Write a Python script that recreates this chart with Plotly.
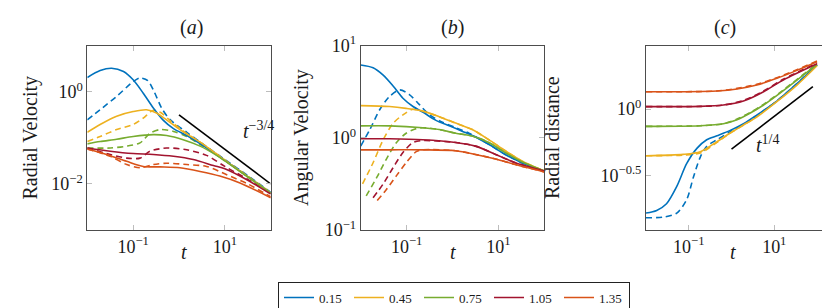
import numpy as np
import plotly.graph_objects as go

# ---------------- data (log10 values) ----------------
labels = ["0.15", "0.45", "0.75", "1.05", "1.35"]
colors = ["#0072BD", "#EDB120", "#77AC30", "#A2142F", "#D95319"]

# Panel (a): Radial velocity  (log10 t, log10 v)
a_blue_s_t = [-2, -1.72, -1.47, -1.21, -1.0, -0.78, -0.56, -0.34, -0.12, 0.17, 0.5, 1.0, 1.5, 2.0]
a_blue_s_v = [0.31, 0.46, 0.51, 0.44, 0.26, -0.03, -0.35, -0.62, -0.80, -0.95, -1.15, -1.49, -1.84, -2.2]
a_blue_d_t = [-2, -1.72, -1.36, -1.0, -0.85, -0.68, -0.55, -0.38, -0.2, 0.17, 0.5, 1.0, 1.5, 2.0]
a_blue_d_v = [-0.61, -0.39, -0.10, 0.22, 0.30, 0.24, 0.02, -0.35, -0.60, -0.88, -1.12, -1.47, -1.82, -2.18]
a_yel_s_t = [-2, -1.72, -1.36, -1.0, -0.71, -0.49, -0.27, 0.02, 0.5, 1.0, 1.5, 2.0]
a_yel_s_v = [-0.88, -0.71, -0.53, -0.43, -0.39, -0.46, -0.61, -0.82, -1.12, -1.49, -1.84, -2.2]
a_yel_d_t = [-2, -1.72, -1.36, -1.0, -0.78, -0.56, -0.4, -0.2, 0.1, 0.5, 1.0, 1.5, 2.0]
a_yel_d_v = [-1.08, -0.97, -0.82, -0.71, -0.57, -0.40, -0.45, -0.62, -0.86, -1.12, -1.48, -1.83, -2.19]
a_grn_s_t = [-2, -1.72, -1.36, -1.0, -0.56, -0.27, 0.09, 0.46, 0.82, 1.0, 1.5, 2.0]
a_grn_s_v = [-1.13, -1.08, -1.03, -0.97, -0.93, -0.95, -1.04, -1.18, -1.38, -1.50, -1.85, -2.2]
a_grn_d_t = [-2, -1.5, -1.14, -0.85, -0.63, -0.41, -0.12, 0.17, 0.5, 1.0, 1.5, 2.0]
a_grn_d_v = [-1.22, -1.22, -1.18, -1.11, -0.90, -0.82, -0.86, -0.97, -1.17, -1.49, -1.84, -2.2]
a_red_s_t = [-2, -1.5, -1.0, -0.56, -0.12, 0.31, 0.75, 1.0, 1.5, 2.0]
a_red_s_v = [-1.22, -1.29, -1.34, -1.36, -1.40, -1.47, -1.60, -1.67, -1.92, -2.22]
a_red_d_t = [-2, -1.5, -1.14, -0.85, -0.63, -0.27, 0.17, 0.6, 1.0, 1.5, 2.0]
a_red_d_v = [-1.22, -1.36, -1.44, -1.44, -1.29, -1.22, -1.26, -1.38, -1.62, -1.90, -2.2]
a_org_s_t = [-2, -1.58, -1.14, -0.78, -0.41, 0.02, 0.46, 0.89, 1.33, 2.0]
a_org_s_v = [-1.24, -1.36, -1.51, -1.62, -1.63, -1.65, -1.73, -1.83, -1.98, -2.30]
a_org_d_t = [-2, -1.5, -1.14, -0.85, -0.56, -0.27, 0.17, 0.6, 1.04, 1.5, 2.0]
a_org_d_v = [-1.24, -1.40, -1.58, -1.65, -1.58, -1.55, -1.58, -1.62, -1.80, -2.0, -2.28]

# Panel (b): Angular velocity
b_blue_s_t = [-2, -1.73, -1.51, -1.29, -1.08, -0.86, -0.65, -0.36, -0.07, 0.22, 0.5, 0.79, 1.15, 1.51, 2.0]
b_blue_s_v = [0.79, 0.76, 0.68, 0.56, 0.43, 0.34, 0.28, 0.19, 0.13, 0.07, 0.01, -0.07, -0.18, -0.27, -0.36]
b_blue_d_t = [-2, -1.8, -1.58, -1.37, -1.15, -0.94, -0.72, -0.5, -0.22, 0.07, 0.36, 0.79, 1.15, 1.51, 2.0]
b_blue_d_v = [-0.09, 0.09, 0.31, 0.45, 0.52, 0.47, 0.36, 0.25, 0.17, 0.11, 0.05, -0.07, -0.18, -0.27, -0.36]
b_yel_s_t = [-2, -1.37, -1.01, -0.65, -0.29, 0.07, 0.43, 0.79, 1.15, 1.51, 2.0]
b_yel_s_v = [0.35, 0.34, 0.32, 0.29, 0.23, 0.16, 0.09, -0.02, -0.14, -0.25, -0.36]
b_yel_d_t = [-1.96, -1.73, -1.51, -1.29, -1.08, -0.86, -0.65, -0.29, 0.07, 0.43, 0.79, 1.15, 1.51, 2.0]
b_yel_d_v = [-0.50, -0.27, -0.02, 0.16, 0.25, 0.31, 0.29, 0.23, 0.16, 0.09, -0.02, -0.14, -0.25, -0.36]
b_grn_s_t = [-2, -1.37, -0.65, -0.29, 0.07, 0.43, 0.79, 1.15, 1.51, 2.0]
b_grn_s_v = [0.13, 0.13, 0.11, 0.09, 0.05, 0.02, -0.05, -0.16, -0.26, -0.36]
b_grn_d_t = [-1.88, -1.65, -1.44, -1.22, -1.01, -0.79, -0.65, -0.29, 0.07, 0.43, 0.79, 1.15, 1.51, 2.0]
b_grn_d_v = [-0.63, -0.43, -0.23, -0.05, 0.05, 0.10, 0.11, 0.09, 0.05, 0.02, -0.05, -0.16, -0.26, -0.36]
b_red_s_t = [-2, -1.37, -0.65, 0.07, 0.5, 0.94, 1.37, 2.0]
b_red_s_v = [-0.01, -0.01, -0.02, -0.05, -0.09, -0.18, -0.27, -0.36]
b_red_d_t = [-1.73, -1.51, -1.29, -1.08, -0.86, -0.65, 0.07, 0.5, 0.94, 1.37, 2.0]
b_red_d_v = [-0.65, -0.50, -0.32, -0.16, -0.05, -0.03, -0.05, -0.09, -0.18, -0.27, -0.36]
b_org_s_t = [-2, -1.37, -0.65, 0.07, 0.5, 0.94, 1.37, 2.0]
b_org_s_v = [-0.13, -0.13, -0.13, -0.14, -0.18, -0.23, -0.29, -0.37]
b_org_d_t = [-1.64, -1.44, -1.22, -1.01, -0.79, -0.65, 0.07, 0.5, 0.94, 1.37, 2.0]
b_org_d_v = [-0.68, -0.56, -0.41, -0.27, -0.15, -0.13, -0.14, -0.18, -0.23, -0.29, -0.37]

# Panel (c): Radial distance
c_blue_s_t = [-2, -1.75, -1.52, -1.28, -1.05, -0.81, -0.58, -0.34, -0.03, 0.28, 0.59, 1.06, 1.53, 2.0]
c_blue_s_v = [-0.78, -0.76, -0.71, -0.58, -0.41, -0.295, -0.23, -0.20, -0.16, -0.11, -0.045, 0.06, 0.19, 0.33]
c_blue_d_t = [-2, -1.59, -1.28, -1.05, -0.89, -0.73, -0.58, -0.34, -0.03, 0.28, 0.59, 1.06, 1.53, 2.0]
c_blue_d_v = [-0.815, -0.81, -0.78, -0.68, -0.51, -0.36, -0.28, -0.23, -0.17, -0.115, -0.05, 0.06, 0.19, 0.33]
c_yel_s_t = [-2, -1.13, -0.73, -0.34, -0.03, 0.28, 0.59, 1.06, 1.53, 2.0]
c_yel_s_v = [-0.35, -0.34, -0.32, -0.245, -0.18, -0.12, -0.06, 0.055, 0.18, 0.325]
c_grn_s_t = [-2, -0.73, -0.19, 0.13, 0.44, 0.75, 1.22, 2.0]
c_grn_s_v = [-0.13, -0.125, -0.11, -0.08, -0.03, 0.03, 0.14, 0.335]
c_red_s_t = [-2, -0.73, -0.19, 0.28, 0.75, 1.22, 2.0]
c_red_s_v = [0.018, 0.02, 0.03, 0.06, 0.13, 0.22, 0.34]
c_org_s_t = [-2, -1.13, -0.34, 0.13, 0.59, 1.06, 1.53, 2.0]
c_org_s_v = [0.13, 0.13, 0.135, 0.15, 0.18, 0.23, 0.29, 0.355]
c_yel_d_v = [-0.35, -0.345, -0.33, -0.25, -0.18, -0.12, -0.055, 0.06, 0.185, 0.33]
c_grn_d_v = [-0.13, -0.125, -0.11, -0.075, -0.025, 0.035, 0.145, 0.34]
c_red_d_v = [0.018, 0.02, 0.03, 0.065, 0.135, 0.225, 0.345]
c_org_d_v = [0.13, 0.13, 0.135, 0.155, 0.185, 0.235, 0.295, 0.36]

# reference power-law lines
ref_a_t = [1, 100]
ref_a_v = [10 ** -0.5, 10 ** -2.0]
ref_c_t = [1, 80]
ref_c_v = [10 ** -0.30, 10 ** 0.1675]

# ---------------- figure ----------------
# the page body has an 8px default margin, so the figure is 8px smaller
# and all pixel positions are shifted by 8px
OFF = 8
W, H = 830 - OFF, 308 - OFF
def px(x):
    return (x - OFF) / W
def py(y):
    return 1 - (y - OFF) / H

panels = {
    "a": dict(x=(87.3, 270.7), xr=[-2, 2], yr=[-3, 1]),
    "b": dict(x=(360.7, 544.3), xr=[-2, 2], yr=[-1, 1]),
    "c": dict(x=(646, 829), xr=[-2, 2.28], yr=[-0.907, 0.475]),
}
ytop, ybot = 45.7, 230

fig = go.Figure()
FONT = "Liberation Serif"
TXT = "#1a1a1a"

def add(axn, t, v, color, dash, name=None, legend=False):
    fig.add_trace(go.Scatter(
        x=10 ** np.array(t, dtype=float), y=10 ** np.array(v, dtype=float),
        mode="lines", line=dict(color=color, width=1.6, dash=dash, shape="spline", smoothing=0.8),
        xaxis="x" + axn, yaxis="y" + axn, name=name, showlegend=legend, hoverinfo="skip"))

DASH = "6px,4px"
a_series = [
    (a_blue_s_t, a_blue_s_v, a_blue_d_t, a_blue_d_v),
    (a_yel_s_t, a_yel_s_v, a_yel_d_t, a_yel_d_v),
    (a_grn_s_t, a_grn_s_v, a_grn_d_t, a_grn_d_v),
    (a_red_s_t, a_red_s_v, a_red_d_t, a_red_d_v),
    (a_org_s_t, a_org_s_v, a_org_d_t, a_org_d_v),
]
b_series = [
    (b_blue_s_t, b_blue_s_v, b_blue_d_t, b_blue_d_v),
    (b_yel_s_t, b_yel_s_v, b_yel_d_t, b_yel_d_v),
    (b_grn_s_t, b_grn_s_v, b_grn_d_t, b_grn_d_v),
    (b_red_s_t, b_red_s_v, b_red_d_t, b_red_d_v),
    (b_org_s_t, b_org_s_v, b_org_d_t, b_org_d_v),
]
c_series = [
    (c_blue_s_t, c_blue_s_v, c_blue_d_t, c_blue_d_v),
    (c_yel_s_t, c_yel_s_v, c_yel_s_t, c_yel_d_v),
    (c_grn_s_t, c_grn_s_v, c_grn_s_t, c_grn_d_v),
    (c_red_s_t, c_red_s_v, c_red_s_t, c_red_d_v),
    (c_org_s_t, c_org_s_v, c_org_s_t, c_org_d_v),
]

for axn, series in (("", a_series), ("2", b_series), ("3", c_series)):
    for i, (st, sv, dt, dv) in enumerate(series):
        add(axn, dt, dv, colors[i], DASH)
    for i, (st, sv, dt, dv) in enumerate(series):
        add(axn, st, sv, colors[i], "solid", name=labels[i], legend=(axn == ""))

fig.add_trace(go.Scatter(x=ref_a_t, y=ref_a_v, mode="lines", line=dict(color="black", width=1.6),
                         xaxis="x", yaxis="y", showlegend=False, hoverinfo="skip"))
fig.add_trace(go.Scatter(x=ref_c_t, y=ref_c_v, mode="lines", line=dict(color="black", width=1.6),
                         xaxis="x3", yaxis="y3", showlegend=False, hoverinfo="skip"))

def sup(e):
    return "10<sup>" + e.replace("-", "\u2212") + "</sup>"

axcommon = dict(type="log", showgrid=False, zeroline=False, showline=True, linecolor="#4d4d4d",
                linewidth=1, mirror="ticks", ticks="inside", ticklen=5, tickcolor="#bdbdbd",
                tickwidth=1, tickfont=dict(family=FONT, size=18, color=TXT))

layout = dict(width=W, height=H, margin=dict(l=0, r=0, t=0, b=0, autoexpand=False),
              paper_bgcolor="white", plot_bgcolor="white",
              font=dict(family=FONT, color=TXT))

xticks = dict(tickvals=[0.1, 10], ticktext=[sup("-1"), sup("1")])
ytick_sets = {
    "a": dict(tickvals=[1, 0.01], ticktext=[sup("0"), sup("-2")]),
    "b": dict(tickvals=[10, 1, 0.1], ticktext=[sup("1"), sup("0"), sup("-1")]),
    "c": dict(tickvals=[1, 10 ** -0.5], ticktext=[sup("0"), sup("-0.5")]),
}
for k, (key, p) in enumerate(panels.items()):
    sfx = "" if k == 0 else str(k + 1)
    layout["xaxis" + sfx] = dict(axcommon, domain=[px(p["x"][0]), min(1.0, px(p["x"][1]))],
                                 range=p["xr"], anchor="y" + sfx, automargin=False, **xticks)
    layout["yaxis" + sfx] = dict(axcommon, domain=[py(ybot), py(ytop)], range=p["yr"],
                                 anchor="x" + sfx, automargin=False, **ytick_sets[key])

layout["legend"] = dict(orientation="h", x=px(278), y=py(281.5), xanchor="left", yanchor="top",
                        bordercolor="#222", borderwidth=1, bgcolor="white",
                        font=dict(family=FONT, size=13, color=TXT),
                        itemwidth=30, tracegroupgap=0, entrywidth=25)
fig.update_layout(**layout)

ann = []
titles = [("(<i>a</i>)", 178), ("(<i>b</i>)", 452.5), ("(<i>c</i>)", 738)]
for txt, x in titles:
    ann.append(dict(text=txt, x=px(x), y=py(14), xref="paper", yref="paper", showarrow=False,
                    font=dict(family=FONT, size=20, color=TXT)))
for x in (179, 452.5, 737.5):
    ann.append(dict(text="<i>t</i>", x=px(x), y=py(265), xref="paper", yref="paper", showarrow=False,
                    font=dict(family=FONT, size=20, color=TXT)))
for txt, x in (("Radial Velocity", 16), ("Angular Velocity", 301), ("Radial distance", 565)):
    ann.append(dict(text=txt, x=px(x), y=py(138), xref="paper", yref="paper", showarrow=False,
                    textangle=-90, font=dict(family=FONT, size=20, color=TXT)))
ann.append(dict(text="<i>t</i><sup>\u22123/4</sup>", x=px(241), y=py(130), xref="paper", yref="paper",
                showarrow=False, font=dict(family=FONT, size=20, color=TXT)))
ann.append(dict(text="<i>t</i><sup>1/4</sup>", x=px(781), y=py(144), xref="paper", yref="paper",
                showarrow=False, font=dict(family=FONT, size=20, color=TXT)))
fig.update_layout(annotations=ann)

fig.write_html("out.html")
